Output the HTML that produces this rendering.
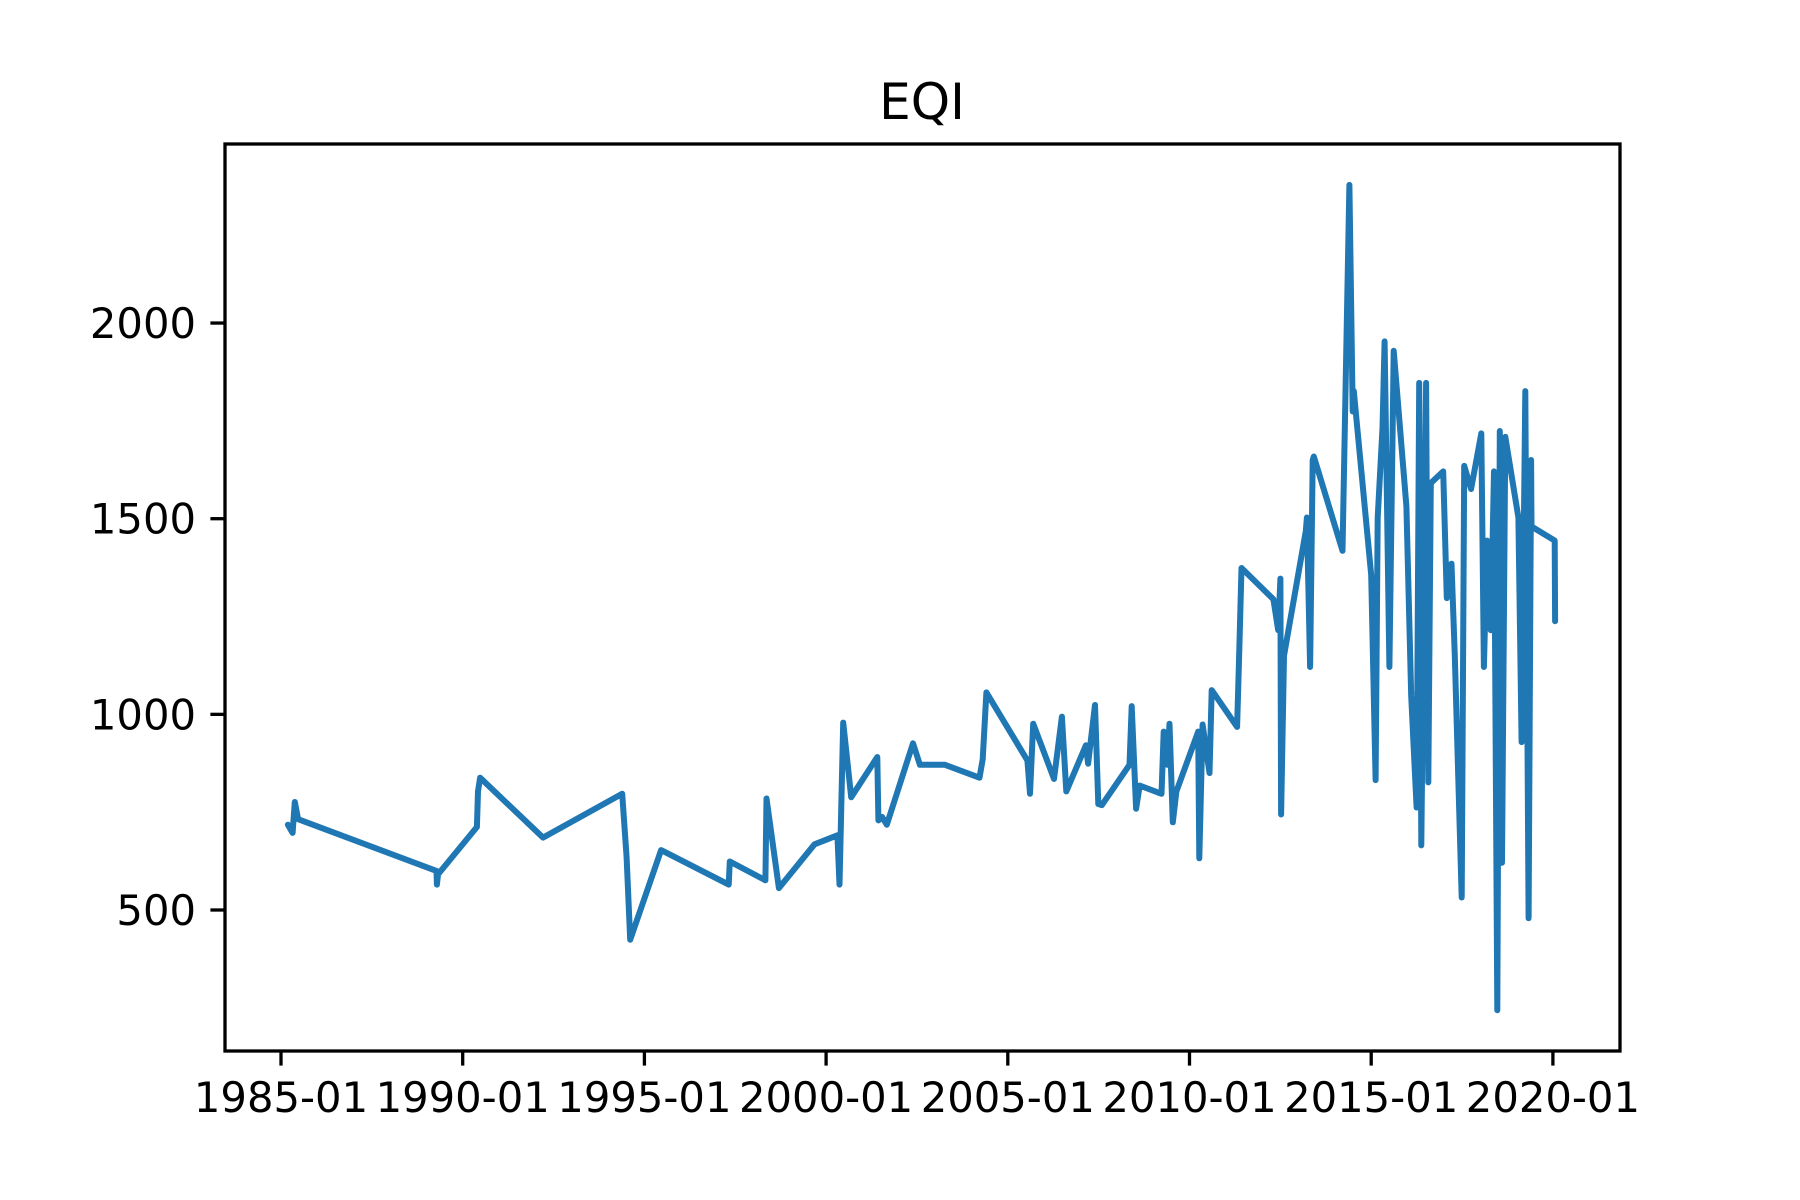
<!DOCTYPE html>
<html><head><meta charset="utf-8"><style>
html,body{margin:0;padding:0;background:#fff;}
svg{display:block;font-family:"DejaVu Sans","Liberation Sans",sans-serif;}
</style></head><body>
<svg id="chart" width="1800" height="1200" viewBox="0 0 1800 1200">
<rect x="0" y="0" width="1800" height="1200" fill="#fff"/>
<text x="922" y="119" font-size="50" text-anchor="middle">EQI</text>
<g id="plot"></g>
<g id="xaxis"></g>
<g id="yaxis"></g>
<rect x="225" y="144" width="1395" height="907" fill="none" stroke="#000" stroke-width="3.3"/>
</svg>
<script>
const years = [1985.19,1985.32,1985.38,1985.47,1989.28,1989.29,1989.32,1990.39,1990.42,1990.48,1992.21,1994.39,1994.51,1994.61,1995.46,1997.32,1997.35,1998.33,1998.36,1998.70,1999.68,2000.31,2000.37,2000.47,2000.69,2001.41,2001.44,2001.54,2001.67,2002.39,2002.58,2003.27,2004.22,2004.31,2004.41,2005.54,2005.61,2005.70,2006.27,2006.49,2006.61,2007.15,2007.21,2007.40,2007.49,2007.59,2008.35,2008.41,2008.53,2008.63,2009.23,2009.29,2009.39,2009.45,2009.54,2009.64,2010.24,2010.27,2010.36,2010.55,2010.61,2011.31,2011.37,2011.43,2012.31,2012.44,2012.50,2012.52,2012.60,2013.20,2013.23,2013.32,2013.39,2013.42,2014.21,2014.40,2014.49,2014.52,2015.00,2015.12,2015.18,2015.31,2015.37,2015.50,2015.62,2015.97,2016.10,2016.25,2016.32,2016.38,2016.51,2016.57,2016.64,2016.98,2017.08,2017.21,2017.30,2017.49,2017.56,2017.75,2018.03,2018.10,2018.19,2018.29,2018.38,2018.47,2018.54,2018.60,2018.69,2019.05,2019.14,2019.24,2019.33,2019.40,2019.41,2020.05,2020.06];
const values = [718,697,776,732,600,565,591,712,803,838,685,797,635,424,653,565,624,576,785,556,668,691,565,979,788,891,729,738,718,926,871,871,838,885,1056,882,797,976,835,994,803,921,874,1024,771,768,871,1021,759,818,797,956,871,976,724,803,956,632,974,850,1062,968,1165,1374,1294,1215,1347,744,1150,1468,1503,1121,1650,1659,1418,2353,1774,1826,1356,832,1503,1732,1953,1121,1929,1532,1047,762,1847,665,1847,826,1591,1621,1297,1385,1150,532,1635,1576,1718,1121,1444,1215,1621,244,1724,621,1709,1503,929,1826,479,1650,1480,1444,1238];
const xTickYears = [1985,1990,1995,2000,2005,2010,2015,2020];
const xTickLabels = ["1985-01","1990-01","1995-01","2000-01","2005-01","2010-01","2015-01","2020-01"];
const yTicks = [500,1000,1500,2000];
const yTickLabels = ["500","1000","1500","2000"];

const NS = "http://www.w3.org/2000/svg";
function xs(y){ return 281 + (y - 1985) * 36.34; }
function ys(v){ return 910 - (v - 500) * 0.3913; }

const plot = document.getElementById('plot');
const pts = years.map((y,i)=>xs(y).toFixed(1)+','+ys(values[i]).toFixed(1)).join(' ');
const line = document.createElementNS(NS,'polyline');
line.setAttribute('points', pts);
line.setAttribute('fill','none');
line.setAttribute('stroke','#1f77b4');
line.setAttribute('stroke-width','6');
line.setAttribute('stroke-linejoin','round');
line.setAttribute('stroke-linecap','round');


plot.appendChild(line);

const xa = document.getElementById('xaxis');
xTickYears.forEach((y,i)=>{
  const x = xs(y);
  const t = document.createElementNS(NS,'line');
  t.setAttribute('x1',x); t.setAttribute('x2',x); t.setAttribute('y1',1051); t.setAttribute('y2',1065.6);
  t.setAttribute('stroke','#000'); t.setAttribute('stroke-width','3.3');
  
  
  xa.appendChild(t);
  const l = document.createElementNS(NS,'text');
  l.setAttribute('x',x); l.setAttribute('y',1112); l.setAttribute('font-size','41.7'); l.setAttribute('text-anchor','middle');
  l.textContent = xTickLabels[i];
  
  
  xa.appendChild(l);
});
const ya = document.getElementById('yaxis');
yTicks.forEach((v,i)=>{
  const y = ys(v);
  const t = document.createElementNS(NS,'line');
  t.setAttribute('x1',210.4); t.setAttribute('x2',225); t.setAttribute('y1',y); t.setAttribute('y2',y);
  t.setAttribute('stroke','#000'); t.setAttribute('stroke-width','3.3');
  
  
  ya.appendChild(t);
  const l = document.createElementNS(NS,'text');
  l.setAttribute('x',196); l.setAttribute('y',y+15); l.setAttribute('font-size','41.7'); l.setAttribute('text-anchor','end');
  l.textContent = yTickLabels[i];
  
  
  ya.appendChild(l);
});
</script>
</body></html>
